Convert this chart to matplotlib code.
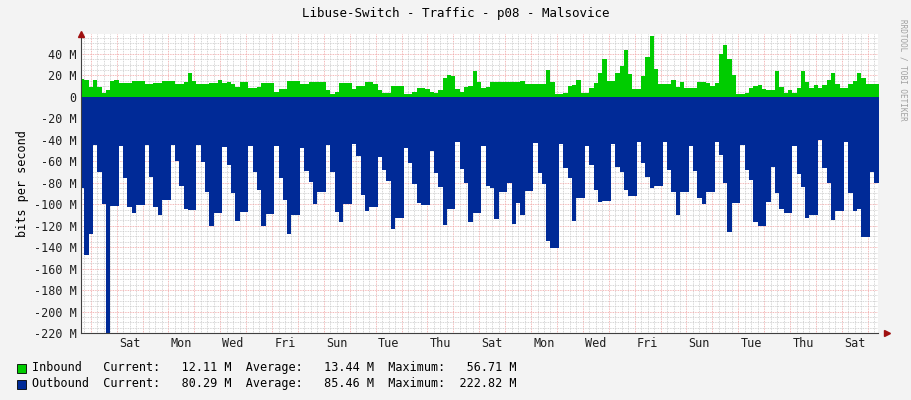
import numpy as np
import matplotlib
matplotlib.use('Agg')
import matplotlib.pyplot as plt

# 4-hour samples (M bit/s), first three are Thu 14:00/18:00/22:00, then 6 per day from 02:00
inbound_days = [
    [17, 16, 9],
    [16, 9, 4, 6, 15, 16], [13, 13, 13, 15, 15, 15], [12, 12, 13, 13, 15, 15],
    [15, 12, 12, 14, 22, 15], [12, 12, 12, 13, 13, 16], [13, 14, 12, 9, 14, 14],
    [8, 8, 9, 13, 13, 13], [5, 7, 7, 15, 15, 15], [12, 12, 14, 14, 14, 14],
    [6, 3, 5, 13, 13, 13], [7, 10, 10, 14, 14, 12], [6, 4, 4, 10, 10, 10],
    [3, 3, 5, 8, 8, 7], [5, 4, 6, 18, 20, 19],
    [7, 5, 9, 10, 24, 14], [8, 9, 14, 14, 14, 14], [14, 14, 14, 15, 12, 12],
    [12, 12, 12, 25, 14, 3], [3, 4, 10, 11, 16, 4], [4, 8, 13, 22, 35, 15],
    [15, 22, 29, 44, 21, 7], [7, 19, 37, 56.7, 26, 12], [12, 12, 16, 9, 14, 8],
    [8, 8, 14, 14, 13, 10], [13, 40, 48, 35, 20, 3], [3, 4, 8, 10, 11, 7],
    [6, 6, 24, 9, 4, 6], [4, 8, 24, 14, 8, 11], [8, 11, 16, 22, 12, 8],
    [8, 12, 15, 22, 18, 12], [12, 12],
]
outbound_days = [
    [85, 147, 128],
    [45, 70, 100, 222.8, 102, 102], [46, 76, 103, 108, 101, 101], [45, 75, 103, 110, 96, 96],
    [45, 60, 83, 104, 105, 105], [45, 61, 89, 120, 108, 108], [47, 63, 90, 116, 107, 107],
    [46, 70, 87, 120, 109, 109], [46, 76, 96, 128, 110, 110], [48, 69, 79, 100, 89, 89],
    [45, 70, 107, 117, 100, 100], [44, 55, 91, 106, 103, 103], [56, 68, 78, 123, 113, 113],
    [48, 62, 81, 99, 101, 101], [50, 71, 84, 119, 104, 104],
    [42, 67, 80, 117, 108, 108], [46, 83, 85, 114, 89, 89], [80, 118, 99, 110, 88, 88],
    [43, 71, 81, 134, 141, 141], [44, 66, 76, 116, 94, 94], [46, 63, 87, 98, 97, 97],
    [44, 65, 70, 87, 92, 92], [42, 62, 75, 85, 83, 83], [42, 68, 89, 110, 89, 89],
    [46, 69, 94, 100, 89, 89], [42, 54, 80, 126, 99, 99], [45, 68, 77, 117, 120, 120],
    [98, 65, 90, 104, 108, 108], [46, 72, 84, 113, 110, 110], [40, 66, 80, 115, 106, 106],
    [42, 90, 106, 104, 131, 131], [70, 80],
]
day_names = ['Thu', 'Fri', 'Sat', 'Sun', 'Mon', 'Tue', 'Wed']

inbound = np.array([v for d in inbound_days for v in d]) * 1e6
outbound = -np.array([v for d in outbound_days for v in d]) * 1e6
t = 14 + 4 * np.arange(len(inbound))
t_edge = np.append(t, t[-1] + 4)
inb = np.append(inbound, inbound[-1])
outb = np.append(outbound, outbound[-1])

BG = '#F3F3F3'
GREEN = '#00CC00'
BLUE = '#002A97'
plt.rcParams['font.family'] = 'DejaVu Sans Mono'
plt.rcParams['font.size'] = 8

fig = plt.figure(figsize=(9.11, 4.0), dpi=100, facecolor=BG)
ax = fig.add_axes([81 / 911, 1 - 333 / 400, 797 / 911, 299 / 400])
ax.set_facecolor('white')

t0, t1 = 15, 15 + 30.77 * 24
ymin, ymax = -220e6, 58.6e6

# grid
for x in np.arange(18, t1, 6):
    if x % 24:
        ax.axvline(x, color='#C8C8C8', lw=0.6, ls=(0, (1, 1)), zorder=0)
for x in np.arange(24, t1, 24):
    ax.axvline(x, color='#F0A0A0', lw=0.6, ls=(0, (1, 1)), zorder=0)
for y in np.arange(-220e6, ymax, 5e6):
    if y % 20e6:
        ax.axhline(y, color='#C8C8C8', lw=0.6, ls=(0, (1, 1)), zorder=0)
for y in np.arange(-200e6, ymax, 20e6):
    ax.axhline(y, color='#F0A0A0', lw=0.6, ls=(0, (1, 1)), zorder=0)

ax.fill_between(t_edge, 0, inb, step='post', color=GREEN, lw=0, zorder=2)
ax.fill_between(t_edge, 0, outb, step='post', color=BLUE, lw=0, zorder=2)

ax.set_xlim(t0, t1)
ax.set_ylim(ymin, ymax)
for s in ['top', 'right']:
    ax.spines[s].set_visible(False)
for s in ['left', 'bottom']:
    ax.spines[s].set_color('#404040')
    ax.spines[s].set_linewidth(0.8)
ax.plot([t0], [ymax], marker='^', color='#A01010', ms=4, clip_on=False, zorder=5)
ax.plot([t1 + 8], [ymin], marker='>', color='#A01010', ms=4, clip_on=False, zorder=5)

yt = np.arange(-220, 41, 20)
ax.set_yticks(yt * 1e6)
ax.set_yticklabels(['0' if v == 0 else f'{v} M' for v in yt])
label_pos = np.arange(2, 31, 2) * 24 + 12
ax.set_xticks(label_pos)
ax.set_xticklabels([day_names[(int(p // 24)) % 7] for p in label_pos])
ax.tick_params(axis='both', length=0, pad=3, labelsize=8.5, colors='#202020')
ax.set_ylabel('bits per second', fontsize=8.5, labelpad=4)

fig.text(0.5, 1 - 14 / 400, 'Libuse-Switch - Traffic - p08 - Malsovice',
         ha='center', va='center', fontsize=9)
fig.text(1 - 8 / 911, 1 - 70 / 400, 'RRDTOOL / TOBI OETIKER', rotation=270,
         ha='center', va='center', fontsize=5.5, color='#A0A0A0')

rows = [('Inbound', GREEN, '12.11 M', '13.44 M', '56.71 M'),
        ('Outbound', BLUE, '80.29 M', '85.46 M', '222.82 M')]
for i, (name, col, cur, avg, mx) in enumerate(rows):
    y = 1 - (368 + 16 * i) / 400
    fig.patches.append(plt.Rectangle((17 / 911, y - 0.013), 9 / 911, 0.0225,
                                     transform=fig.transFigure, facecolor=col,
                                     edgecolor='black', lw=0.6))
    fig.text(32 / 911, y, f'{name:<10}Current:{cur:>10}  Average:{avg:>10}  Maximum:{mx:>10}',
             ha='left', va='center', fontsize=8.5)

fig.savefig('out.png', dpi=100, facecolor=BG)
